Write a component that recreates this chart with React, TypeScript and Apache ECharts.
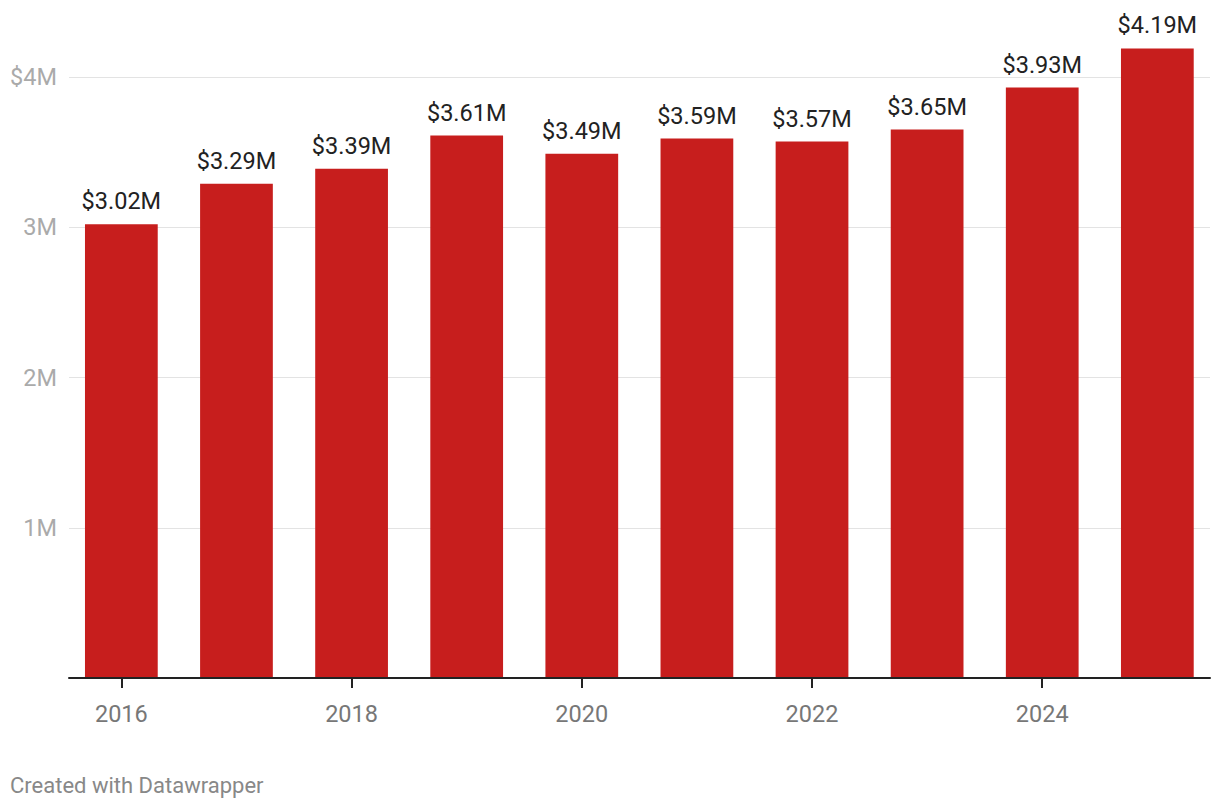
import React, { useEffect, useRef } from "react";
import * as echarts from "echarts";

const years = ["2016", "2017", "2018", "2019", "2020", "2021", "2022", "2023", "2024", "2025"];
const values = [3.02, 3.29, 3.39, 3.61, 3.49, 3.59, 3.57, 3.65, 3.93, 4.19];
const yTicks = [0, 1, 2, 3, 4];
const footer = "Created with Datawrapper";

const FONT = "Roboto, 'Noto Sans', sans-serif";

export default function App() {
  const ref = useRef<HTMLDivElement>(null);
  useEffect(() => {
    if (!ref.current) return;
    const chart = echarts.init(ref.current, undefined, { renderer: "svg" });
    const yMax = 4.5;
    const gridTop = 1.875;
    const gridBottom = 132;
    chart.setOption({
      animation: false,
      backgroundColor: "#ffffff",
      textStyle: { fontFamily: FONT },
      grid: [
        { left: 69, right: 10, top: gridTop, bottom: gridBottom, containLabel: false },
        { left: 63.8, right: 5.1, top: gridTop, bottom: gridBottom, containLabel: false },
      ],
      xAxis: [
        {
          gridIndex: 0,
          type: "value",
          min: 0,
          max: 1,
          axisLine: { show: true, onZero: false, lineStyle: { color: "#222222", width: 2 } },
          axisTick: { show: false },
          axisLabel: { show: false },
          splitLine: { show: false },
          z: 5,
        },
        {
          gridIndex: 1,
          type: "category",
          data: years,
          boundaryGap: true,
          axisLine: { show: false },
          axisTick: {
            show: true,
            alignWithLabel: true,
            interval: (i: number) => i % 2 === 0,
            length: 10,
            lineStyle: { color: "#222222", width: 2 },
          },
          axisLabel: {
            interval: (i: number) => i % 2 === 0,
            color: "#777777",
            fontSize: 23.5,
            fontFamily: FONT,
            margin: 24,
          },
          splitLine: { show: false },
        },
      ],
      yAxis: [
        {
          gridIndex: 0,
          type: "value",
          min: 0,
          max: yMax,
          interval: 1,
          axisLine: { show: false },
          axisTick: { show: false },
          axisLabel: {
            color: "#aaaaaa",
            fontSize: 23.5,
            fontFamily: FONT,
            margin: 12,
            showMaxLabel: false,
            formatter: (v: number) => {
              if (!yTicks.includes(v) || v === 0) return "";
              return v === yTicks[yTicks.length - 1] ? "$" + v + "M" : v + "M";
            },
          },
          splitLine: {
            show: true,
            showMaxLine: false,
            showMinLine: false,
            lineStyle: { color: "#e3e3e3", width: 1 },
          },
        },
        {
          gridIndex: 1,
          type: "value",
          min: 0,
          max: yMax,
          interval: 1,
          show: false,
          splitLine: { show: false },
        },
      ],
      series: [
        {
          type: "bar",
          xAxisIndex: 1,
          yAxisIndex: 1,
          data: values,
          barCategoryGap: "36.8%",
          itemStyle: { color: "#c71e1d" },
          label: {
            show: true,
            position: "top",
            distance: 11,
            color: "#222222",
            fontSize: 23.5,
            fontFamily: FONT,
            formatter: (p: any) => "$" + Number(p.value).toFixed(2) + "M",
          },
        },
      ],
      graphic: [
        {
          type: "text",
          left: 10,
          top: 774,
          style: { text: footer, fill: "#888888", fontSize: 22, fontFamily: FONT },
        },
      ],
    });
    return () => chart.dispose();
  }, []);
  return (
    <div
      ref={ref}
      style={{ position: "fixed", left: 0, top: 0, width: 1220, height: 810, background: "#fff" }}
    />
  );
}
